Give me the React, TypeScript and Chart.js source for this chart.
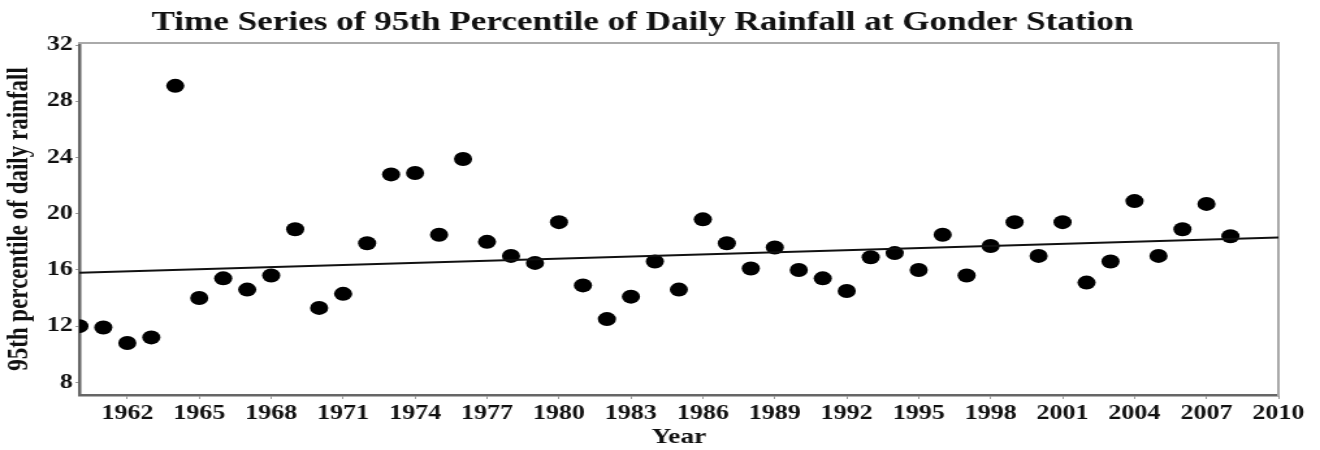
import React, { useEffect, useRef } from 'react';
import { Chart, registerables } from 'chart.js';

Chart.register(...registerables);

const TITLE = 'Time Series of 95th Percentile of Daily Rainfall at Gonder Station';
const X_LABEL = 'Year';
const Y_LABEL = '95th percentile of daily rainfall';

const YEARS = [
  1960, 1961, 1962, 1963, 1964, 1965, 1966, 1967, 1968, 1969,
  1970, 1971, 1972, 1973, 1974, 1975, 1976, 1977, 1978, 1979,
  1980, 1981, 1982, 1983, 1984, 1985, 1986, 1987, 1988, 1989,
  1990, 1991, 1992, 1993, 1994, 1995, 1996, 1997, 1998, 1999,
  2000, 2001, 2002, 2003, 2004, 2005, 2006, 2007, 2008,
];
const RAIN_P95 = [
  12.0, 11.9, 10.8, 11.2, 29.1, 14.0, 15.4, 14.6, 15.6, 18.9,
  13.3, 14.3, 17.9, 22.8, 22.9, 18.5, 23.9, 18.0, 17.0, 16.5,
  19.4, 14.9, 12.5, 14.1, 16.6, 14.6, 19.6, 17.9, 16.1, 17.6,
  16.0, 15.4, 14.5, 16.9, 17.2, 16.0, 18.5, 15.6, 17.7, 19.4,
  17.0, 19.4, 15.1, 16.6, 20.9, 17.0, 18.9, 20.7, 18.4,
];
const TREND_YEARS = [1960, 2010];
const TREND_VALUES = [15.8, 18.3];

const X_TICKS = [1962, 1965, 1968, 1971, 1974, 1977, 1980, 1983, 1986, 1989, 1992, 1995, 1998, 2001, 2004, 2007, 2010];
const Y_TICKS = [8, 12, 16, 20, 24, 28, 32];

const CANVAS_W = 1015;
const CANVAS_H = 450;
const STRETCH = 1320 / CANVAS_W;
const FONT = '"Liberation Serif", "Times New Roman", serif';

const titlePlugin = {
  id: 'stretchedTitle',
  afterDraw(chart: any) {
    const ctx = chart.ctx;
    ctx.save();
    ctx.font = `bold 27px ${FONT}`;
    ctx.fillStyle = '#111';
    ctx.textAlign = 'center';
    ctx.textBaseline = 'alphabetic';
    ctx.fillText(TITLE, 494, 30);
    ctx.restore();
  },
};

export default function App() {
  const ref = useRef<HTMLCanvasElement | null>(null);

  useEffect(() => {
    document.body.style.margin = '0';
    const canvas = ref.current;
    if (!canvas) return;
    const chart = new Chart(canvas, {
      type: 'scatter',
      data: {
        datasets: [
          {
            label: 'P95',
            data: YEARS.map((y, i) => ({ x: y, y: RAIN_P95[i] })),
            pointRadius: 7,
            pointBackgroundColor: '#000',
            pointBorderWidth: 0,
            borderWidth: 0,
            order: 1,
          },
          {
            label: 'Trend',
            data: TREND_YEARS.map((y, i) => ({ x: y, y: TREND_VALUES[i] })),
            showLine: true,
            pointRadius: 0,
            borderColor: '#111',
            borderWidth: 2,
            order: 0,
          } as any,
        ],
      },
      options: {
        responsive: false,
        animation: false,
        devicePixelRatio: 1,
        layout: { padding: { top: 43, right: 32, left: 0, bottom: 0 } },
        plugins: {
          legend: { display: false },
          tooltip: { enabled: false },
          title: { display: false },
        },
        scales: {
          x: {
            type: 'linear',
            position: 'bottom',
            min: 1960,
            max: 2010,
            afterBuildTicks: (s: any) => {
              s.ticks = X_TICKS.map((v) => ({ value: v }));
            },
            afterFit: (s: any) => {
              s.height = 55;
            },
            ticks: {
              callback: (v: any) => String(v),
              color: '#111',
              font: { family: FONT, size: 20, weight: 'bold' },
              padding: 3,
              maxRotation: 0,
              autoSkip: false,
            },
            grid: { display: true, drawOnChartArea: false, drawTicks: true, tickLength: 4, color: '#999' },
            border: { display: true, color: '#666', width: 2.5 },
            title: {
              display: true,
              text: X_LABEL,
              color: '#111',
              font: { family: FONT, size: 21, weight: 'bold' },
              padding: { top: 0, bottom: 0 },
            },
          },
          y: {
            type: 'linear',
            position: 'left',
            min: 7.1,
            max: 32.15,
            afterBuildTicks: (s: any) => {
              s.ticks = Y_TICKS.map((v) => ({ value: v }));
            },
            afterFit: (s: any) => {
              s.width = 61;
            },
            ticks: {
              color: '#111',
              font: { family: FONT, size: 20, weight: 'bold' },
              padding: 2,
            },
            grid: { display: true, drawOnChartArea: false, drawTicks: true, tickLength: 3, color: '#999' },
            border: { display: true, color: '#666', width: 2.5 },
            title: {
              display: true,
              text: Y_LABEL,
              color: '#111',
              font: { family: FONT, size: 23, weight: 'bold' },
              padding: { top: 1, bottom: 0 },
            },
          },
          x2: {
            type: 'linear',
            position: 'top',
            min: 1960,
            max: 2010,
            afterFit: (s: any) => {
              s.height = 0;
            },
            ticks: { display: false },
            grid: { display: true, drawOnChartArea: false, drawTicks: false },
            border: { display: true, color: '#aaa', width: 2 },
          },
          y2: {
            type: 'linear',
            position: 'right',
            min: 7.1,
            max: 32.15,
            afterFit: (s: any) => {
              s.width = 0;
            },
            ticks: { display: false },
            grid: { display: true, drawOnChartArea: false, drawTicks: false },
            border: { display: true, color: '#aaa', width: 2 },
          },
        } as any,
      },
      plugins: [titlePlugin],
    });
    return () => chart.destroy();
  }, []);

  return (
    <div style={{ width: 1320, height: 450, overflow: 'hidden', background: '#fff' }}>
      <div style={{ width: CANVAS_W, height: CANVAS_H, transform: `scaleX(${STRETCH})`, transformOrigin: '0 0' }}>
        <canvas ref={ref} width={CANVAS_W} height={CANVAS_H} style={{ display: 'block' }} />
      </div>
    </div>
  );
}
